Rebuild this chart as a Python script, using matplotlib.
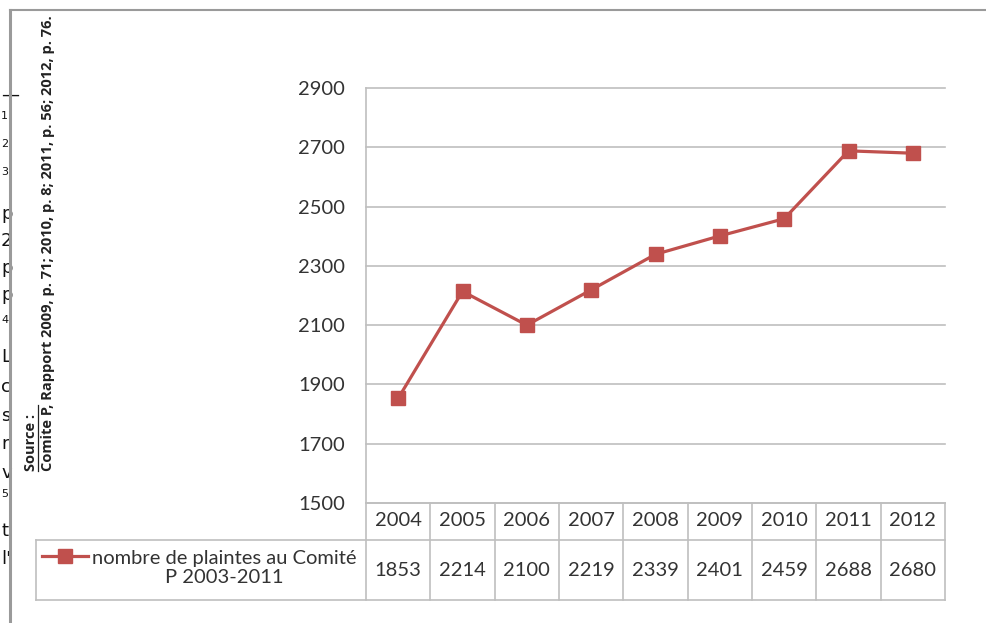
import matplotlib
matplotlib.use("Agg")
import matplotlib.pyplot as plt
from matplotlib.lines import Line2D

years = ["2004", "2005", "2006", "2007", "2008", "2009", "2010", "2011", "2012"]
plaintes = [1853, 2214, 2100, 2219, 2339, 2401, 2459, 2688, 2680]
y_ticks = [1500, 1700, 1900, 2100, 2300, 2500, 2700, 2900]
series_label = "nombre de plaintes au Comité\nP 2003-2011"
source_title = "Source :"
source_text = "Comite P, Rapport 2009, p. 71; 2010, p. 8; 2011, p. 56; 2012, p. 76."
margin_frags = [("—", 95), ("1", 116), ("2", 144), ("3", 172), ("p", 214), ("2", 241),
                ("p", 268), ("p", 295), ("4", 320), ("L", 357), ("c", 387), ("s", 416),
                ("r", 444), ("v", 473), ("5", 494), ("t", 531), ("l'", 559)]
small_frags = {116, 144, 172, 320, 494}

W, H = 986, 623
FONT = "Lato"
FS = 14.5
RED = "#C0504D"
GRID = "#BFBFBF"
TXT = "#333333"

def fx(x):
    return x / W

def fy(y):
    return 1 - y / H

fig = plt.figure(figsize=(W / 100, H / 100), dpi=100)
fig.patch.set_facecolor("white")

# plot area
L, R, T, B = 366, 945, 88, 503
ax = fig.add_axes([fx(L), fy(B), fx(R) - fx(L), fy(T) - fy(B)])
x = list(range(len(years)))
ax.plot(x, plaintes, color=RED, lw=2.3, marker="s", markersize=10.5,
        markerfacecolor=RED, markeredgecolor=RED, zorder=3)
ax.set_xlim(-0.5, len(years) - 0.5)
ax.set_ylim(y_ticks[0], y_ticks[-1])
ax.set_yticks(y_ticks)
ax.set_yticklabels([str(v) for v in y_ticks], fontsize=FS, color=TXT, family=FONT)
ax.tick_params(axis="y", length=0, pad=15)
ax.set_xticks([])
for v in y_ticks:
    ax.axhline(v, color=GRID, lw=1.2, zorder=1, clip_on=False)
for s in ["top", "right", "bottom"]:
    ax.spines[s].set_visible(False)
ax.spines["left"].set_color(GRID)
ax.spines["left"].set_linewidth(1.2)

# data table
def ay(py):
    return (B - py) / (B - T)

tr = ax.get_xaxis_transform()
row1, row2, row3 = 503, 540, 600
for i in range(len(years) + 1):
    xb = i - 0.5
    ax.plot([xb, xb], [ay(row1), ay(row3)], transform=tr, color=GRID, lw=1.2, clip_on=False)
ax.plot([-0.5, len(years) - 0.5], [ay(row1), ay(row1)], transform=tr, color=GRID, lw=1.2, clip_on=False)
for yy in (row2, row3):
    fig.add_artist(Line2D([fx(36), fx(R)], [fy(yy), fy(yy)], color=GRID, lw=1.2))
fig.add_artist(Line2D([fx(36), fx(36)], [fy(row2), fy(row3)], color=GRID, lw=1.2))
for i, (yr, v) in enumerate(zip(years, plaintes)):
    ax.text(i, ay(521), yr, transform=tr, ha="center", va="center", fontsize=FS,
            color=TXT, family=FONT, clip_on=False)
    ax.text(i, ay(570), str(v), transform=tr, ha="center", va="center", fontsize=FS,
            color=TXT, family=FONT, clip_on=False)

# legend key in table
fig.add_artist(Line2D([fx(42), fx(88)], [fy(556), fy(556)], color=RED, lw=2.3))
fig.add_artist(Line2D([fx(65)], [fy(556)], color=RED, lw=0, marker="s", markersize=10.5,
                      markerfacecolor=RED, markeredgecolor=RED))
fig.text(fx(224), fy(568), series_label, ha="center", va="center", fontsize=FS,
         color=TXT, family=FONT, linespacing=1.2)

# source text (rotated)
fig.text(fx(31), fy(471), source_title, rotation=90, ha="center", va="bottom",
         fontsize=10.5, fontweight="bold", color="#222222", family="Open Sans")
fig.add_artist(Line2D([fx(38), fx(38)], [fy(471), fy(405)], color="#222222", lw=0.9))
fig.text(fx(48), fy(471), source_text, rotation=90, ha="center", va="bottom",
         fontsize=10.5, fontweight="bold", color="#222222", family="Open Sans")

# page fragments left of the frame
for t, yy in margin_frags:
    fs = 8 if yy in small_frags else 13
    fig.text(fx(1), fy(yy), t, ha="left", va="center", fontsize=fs,
             color="#111111", family="DejaVu Sans", zorder=0)

# frame
fig.add_artist(Line2D([fx(10), fx(10)], [fy(10), 0], color="#9A9A9A", lw=2.2))
fig.add_artist(Line2D([fx(10), 1], [fy(10), fy(10)], color="#9A9A9A", lw=1.5))

fig.savefig("out.png", dpi=100, facecolor="white")
